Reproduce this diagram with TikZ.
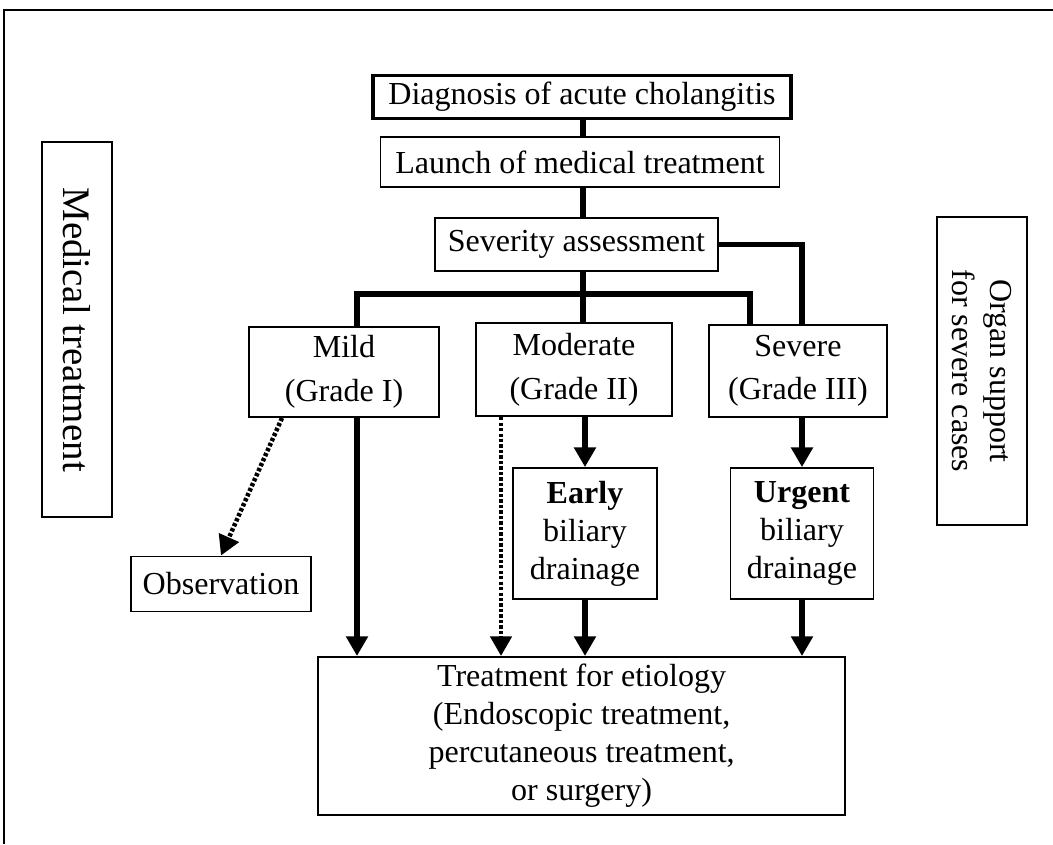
\documentclass[tikz,border=0pt]{standalone}
\usepackage{fontspec}
\setmainfont{Liberation Serif}
\usetikzlibrary{arrows.meta}
\begin{document}
\begin{tikzpicture}[line width=1.4pt,
	box/.style={draw, align=center, inner sep=2pt, font=\fontsize{22.8}{27}\selectfont},
	grade/.style={box, font=\fontsize{22.8}{31}\selectfont},
	link/.style={line width=3.6pt},
	arr/.style={line width=3.6pt, -{Triangle[width=15pt,length=14pt]}},
	dots/.style={arr, line width=3.2pt, dash pattern=on 2.4pt off 1.5pt}]
	\useasboundingbox (0,0) rectangle (26.325, 21.1);
	\draw[line width=1.6pt] (26.325, 20.85) -- (0.1, 20.85) -- (0.1, 0);
	\node (diag)   at (14.55, 18.675)	[box, line width=2.6pt, minimum width=10.45cm, minimum height=1.075cm]	{Diagnosis of acute cholangitis};
	\node (launch) at (14.50, 17.05)	[box, minimum width=9.975cm, minimum height=1.25cm]	{Launch of medical treatment};
	\node (sev)    at (14.41, 14.99)	[box, minimum width=7.075cm, minimum height=1.325cm]	{Severity assessment};
	\node (mild)   at ( 8.60, 11.80)	[grade, minimum width=4.75cm, minimum height=2.25cm]	{Mild\\(Grade I)};
	\node (mod)    at (14.35, 11.86)	[grade, minimum width=4.9cm, minimum height=2.325cm]	{Moderate\\(Grade II)};
	\node (sevr)   at (19.95, 11.825)	[grade, minimum width=4.45cm, minimum height=2.3cm]	{Severe\\(Grade III)};
	\node (early)  at (14.625, 7.76)	[box, minimum width=3.6cm, minimum height=3.275cm]	{\textbf{Early}\\biliary\\drainage};
	\node (urgent) at (20.05, 7.76)	[box, minimum width=3.575cm, minimum height=3.275cm]	{\textbf{Urgent}\\biliary\\drainage};
	\node (obs)    at ( 5.525, 6.50)	[box, minimum width=4.5cm, minimum height=1.375cm]	{Observation};
	\node (treat)  at (14.54, 2.70)	[box, minimum width=13.175cm, minimum height=3.95cm]	{Treatment for etiology\\(Endoscopic treatment,\\percutaneous treatment,\\or surgery)};
	\node (med)    at ( 1.925, 12.86)	[box, rotate=-90, minimum width=9.375cm, minimum height=1.75cm, font=\fontsize{27.7}{32}\selectfont]	{Medical treatment};
	\node (organ)  at (24.55, 11.825)	[box, rotate=-90, minimum width=7.7cm, minimum height=2.25cm]	{Organ support\\for severe cases};
	\coordinate (barL) at ( 8.925, 13.75);
	\coordinate (barM) at (14.575, 13.75);
	\coordinate (barR) at (18.75, 13.75);
	\draw[link] (diag.south -| barM) -- (launch.north -| barM);
	\draw[link] (launch.south -| barM) -- (sev.north -| barM);
	\draw[link] (sev.south -| barM) -- (mod.north -| barM);
	\draw[link] (mild.north -| barL) -- (barL) -- (barR) -- (sevr.north -| barR);
	\draw[link] (sev.east) -| (sevr.north -| urgent.north);
	\draw[arr] (mod.south -| early.north) -- (early.north);
	\draw[arr] (sevr.south -| urgent.north) -- (urgent.north);
	\draw[arr] (mild.south -| barL) -- (treat.north -| barL);
	\draw[arr] (early.south) -- (early.south |- treat.north);
	\draw[arr] (urgent.south) -- (urgent.south |- treat.north);
	\draw[dots] ([xshift=0.65cm]mod.south west) -- ([xshift=0.65cm]mod.south west |- treat.north);
	\draw[dots] ([xshift=0.85cm]mild.south west) -- (obs.north);
\end{tikzpicture}
\end{document}
